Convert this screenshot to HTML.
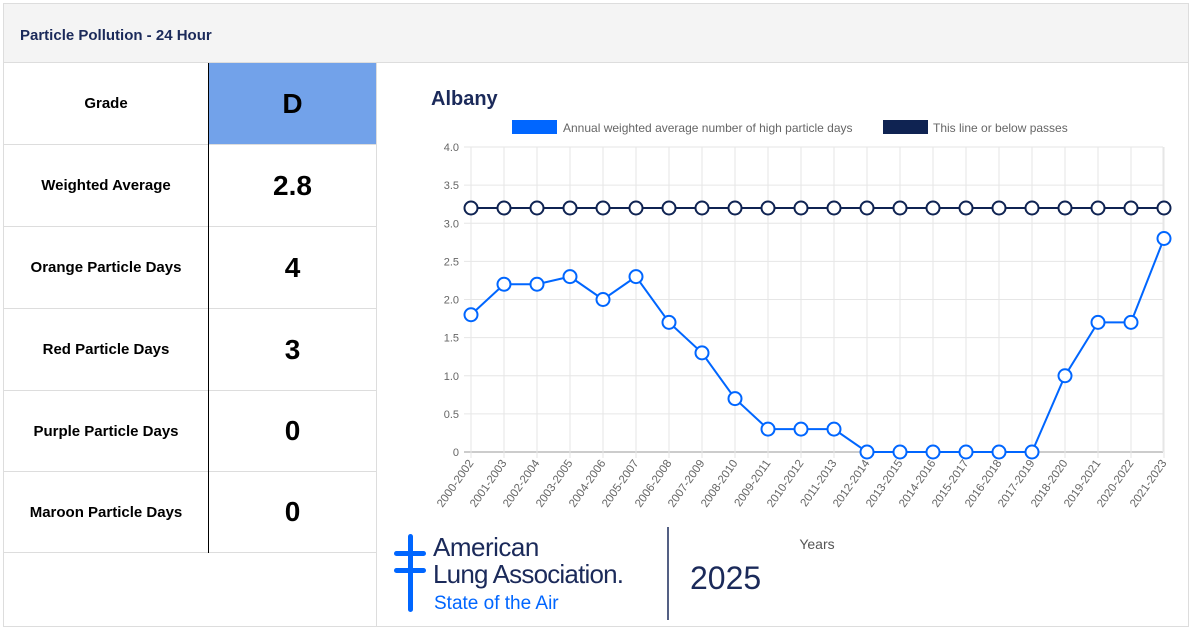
<!DOCTYPE html>
<html><head><meta charset="utf-8"><style>
html,body{margin:0;padding:0;background:#fff;}
body{width:1200px;height:630px;position:relative;overflow:hidden;font-family:"Liberation Sans",Arial,sans-serif;}
.box{position:absolute;left:3px;top:3px;width:1186px;height:624px;border:1px solid #ddd;box-sizing:border-box;}
.hdr{position:absolute;left:4px;top:4px;width:1184px;height:58px;background:#f4f4f4;border-bottom:1px solid #ddd;}
.hdr span{position:absolute;left:16px;top:23px;font-size:15px;font-weight:bold;color:#1b2a5a;}
.cell{position:absolute;display:flex;align-items:center;justify-content:center;font-weight:bold;color:#000;box-sizing:border-box;border-bottom:1px solid #ddd;}
.lab{left:4px;width:204px;font-size:15px;}
.val{left:209px;width:167px;font-size:28px;}
.vline{position:absolute;left:208px;top:63px;width:1px;height:490px;background:#000;}
.sep{position:absolute;left:376px;top:63px;width:1px;height:564px;background:#ddd;}
</style></head><body>
<div class="box"></div>
<div class="hdr"><span>Particle Pollution - 24 Hour</span></div>
<div class="cell lab" style="top:63px;height:82px">Grade</div>
<div class="cell val" style="top:63px;height:82px;background:#72a2ea">D</div>
<div class="cell lab" style="top:145px;height:82px">Weighted Average</div>
<div class="cell val" style="top:145px;height:82px">2.8</div>
<div class="cell lab" style="top:227px;height:82px">Orange Particle Days</div>
<div class="cell val" style="top:227px;height:82px">4</div>
<div class="cell lab" style="top:309px;height:82px">Red Particle Days</div>
<div class="cell val" style="top:309px;height:82px">3</div>
<div class="cell lab" style="top:391px;height:81px">Purple Particle Days</div>
<div class="cell val" style="top:391px;height:81px">0</div>
<div class="cell lab" style="top:472px;height:81px">Maroon Particle Days</div>
<div class="cell val" style="top:472px;height:81px">0</div>
<div class="vline"></div>
<div class="sep"></div>
<svg id="c" width="1200" height="630" style="position:absolute;left:0;top:0" font-family="Liberation Sans, Arial, sans-serif"></svg>
<script>
var s='';
var x0=471,dx=33,y0=452,k=76.25;
var labels=[],d=[1.8,2.2,2.2,2.3,2.0,2.3,1.7,1.3,0.7,0.3,0.3,0.3,0,0,0,0,0,0,1.0,1.7,1.7,2.8];
for(var i=0;i<22;i++)labels.push((2000+i)+'-'+(2002+i));
s+='<text x="431" y="105" font-size="20" font-weight="bold" fill="#1b2a5a">Albany</text>';
s+='<rect x="512" y="120" width="45" height="14" fill="#0066ff"/><text x="563" y="132" font-size="12" fill="#666">Annual weighted average number of high particle days</text>';
s+='<rect x="883" y="120" width="45" height="14" fill="#0f2352"/><text x="933" y="132" font-size="12" fill="#666">This line or below passes</text>';
for(var j=0;j<=8;j++){var y=y0-j*k/2;s+='<line x1="464" x2="1163" y1="'+y+'" y2="'+y+'" stroke="'+(j==0?'#ccc':'#e6e6e6')+'" stroke-width="'+(j==0?2:1)+'"/>';
s+='<text x="459" y="'+(y+4)+'" font-size="11" fill="#666" text-anchor="end">'+(j==0?'0':(j/2).toFixed(1))+'</text>';}
for(var i=0;i<22;i++){var x=x0+i*dx;s+='<line x1="'+x+'" x2="'+x+'" y1="147" y2="458" stroke="#e6e6e6"/>';
s+='<text transform="translate('+(x+3)+',463) rotate(-55)" font-size="11.5" fill="#666" text-anchor="end">'+labels[i]+'</text>';}
s+='<line x1="1163" x2="1163" y1="147" y2="452" stroke="#e6e6e6"/>';
var p1='',p2='';
for(var i=0;i<22;i++){var x=x0+i*dx;p1+=(i?'L':'M')+x+' '+(y0-3.2*k);p2+=(i?'L':'M')+x+' '+(y0-d[i]*k);}
s+='<path d="'+p1+'" stroke="#0f2352" stroke-width="2" fill="none"/>';
s+='<path d="'+p2+'" stroke="#0066ff" stroke-width="2" fill="none"/>';
for(var i=0;i<22;i++){var x=x0+i*dx;s+='<circle cx="'+x+'" cy="'+(y0-3.2*k)+'" r="6.5" fill="#fff" stroke="#0f2352" stroke-width="2"/>';
s+='<circle cx="'+x+'" cy="'+(y0-d[i]*k)+'" r="6.5" fill="#fff" stroke="#0066ff" stroke-width="2"/>';}
s+='<text x="817" y="549" font-size="14" fill="#555" text-anchor="middle">Years</text>';
s+='<rect x="408" y="534" width="5" height="78" rx="2.5" fill="#0066ff"/><rect x="394" y="551" width="32" height="5" rx="2.5" fill="#0066ff"/><rect x="394" y="568" width="32" height="5" rx="2.5" fill="#0066ff"/>';
s+='<text x="433" y="556" font-size="26" fill="#1b2a5a" letter-spacing="-0.5">American</text>';
s+='<text x="433" y="583" font-size="26" fill="#1b2a5a" letter-spacing="-0.8">Lung Association.</text>';
s+='<text x="434" y="609" font-size="19" fill="#0066ff">State of the Air</text>';
s+='<line x1="668" x2="668" y1="527" y2="620" stroke="#1b2a5a" stroke-width="1.5"/>';
s+='<text x="690" y="589" font-size="32" fill="#1b2a5a">2025</text>';
document.getElementById('c').innerHTML=s;
</script>
</body></html>
